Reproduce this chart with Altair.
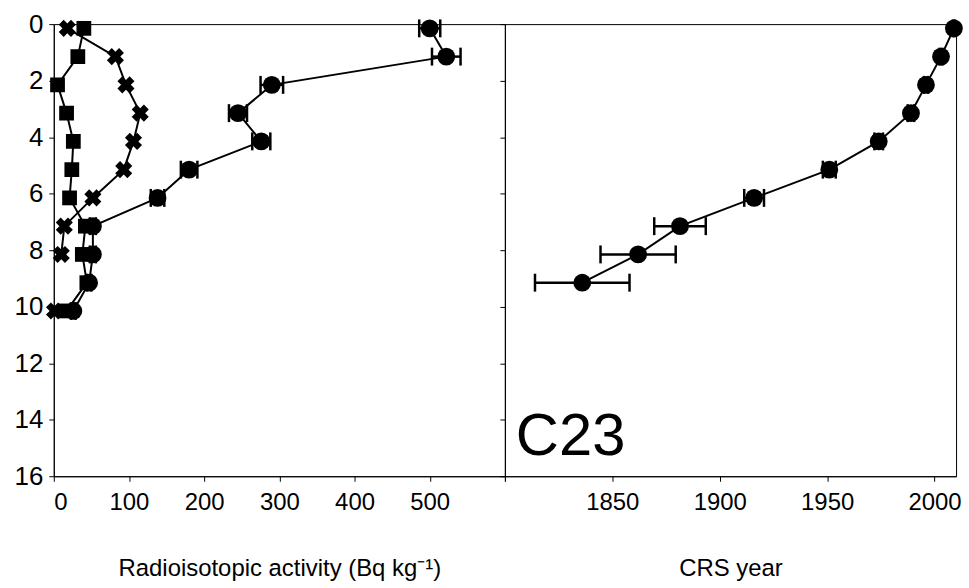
import altair as alt
import pandas as pd

# ---- data ----
depth = [0.15, 1.15, 2.15, 3.15, 4.15, 5.15, 6.15, 7.15, 8.15, 9.15, 10.15]
circle_act = [500, 522, 290, 245, 276, 180, 138, 52, 52, 47, 26]
circle_err = [14, 19, 15, 12, 12, 11, 9, 4, 4, 3, 3]
square_act = [40, 32, 5, 17, 26, 24, 21, 42, 38, 44, 17]
cross_act = [18, 82, 96, 115, 106, 93, 52, 14, 10, None, 1]

crs_depth = [0.15, 1.15, 2.15, 3.15, 4.15, 5.15, 6.15, 7.15, 8.15, 9.15]
crs_year = [2009, 2003, 1996, 1989, 1974, 1951, 1916, 1881.5, 1862, 1836]
crs_err = [0.5, 0.7, 1, 1.5, 2, 3, 4.6, 12, 17.5, 22]

y_ticks = [0, 2, 4, 6, 8, 10, 12, 14, 16]
x1_ticks = [0, 100, 200, 300, 400, 500, 600]
x2_ticks = [1800, 1850, 1900, 1950, 2000]

FONT = "Liberation Sans, Arial, sans-serif"
NARROW = "Liberation Sans Narrow, Liberation Sans, Arial, sans-serif"

W, H = 453, 454

circ = pd.DataFrame({"depth": depth, "v": circle_act, "err": circle_err})
circ["lo"] = circ["v"] - circ["err"]
circ["hi"] = circ["v"] + circ["err"]
sq = pd.DataFrame({"depth": depth, "v": square_act})
cr = pd.DataFrame({"depth": depth, "v": cross_act})
crs = pd.DataFrame({"depth": crs_depth, "v": crs_year, "err": crs_err})
crs["lo"] = crs["v"] - crs["err"]
crs["hi"] = crs["v"] + crs["err"]

yscale = alt.Scale(domain=[0, 16], reverse=True, nice=False, zero=False)
yaxis = alt.Axis(values=y_ticks, grid=False, labelFont=FONT, labelFontSize=26,
                 labelColor="black", domainColor="black", tickColor="black",
                 tickSize=5, labelPadding=6, title=None)
yaxis_r = alt.Axis(values=y_ticks, grid=False, labels=False, domainColor="black",
                   tickColor="black", tickSize=5, title=None)

x1scale = alt.Scale(domain=[0, 600], nice=False, zero=False)
x1axis = alt.Axis(values=x1_ticks, grid=False, labelFont=NARROW, labelFontSize=24,
                  labelColor="black", domainColor="black", tickColor="black",
                  tickSize=5, labelPadding=9,
                  labelExpr="datum.value == 600 ? '' : datum.label",
                  title="Radioisotopic activity (Bq kg\u207b\u00b9)",
                  titleFont=NARROW, titleFontSize=24, titleFontWeight="normal",
                  titleColor="black", titlePadding=43)
x2scale = alt.Scale(domain=[1800, 2010], nice=False, zero=False)
x2axis = alt.Axis(values=x2_ticks, grid=False, labelFont=NARROW, labelFontSize=24,
                  labelColor="black", domainColor="black", tickColor="black",
                  tickSize=5, labelPadding=9, format="d",
                  labelExpr="datum.value == 1800 ? '' : datum.label",
                  title="CRS year", titleFont=NARROW, titleFontSize=24,
                  titleFontWeight="normal", titleColor="black", titlePadding=43)

Y = alt.Y("depth:Q", scale=yscale, axis=yaxis)
Yr = alt.Y("depth:Q", scale=yscale, axis=yaxis_r)

CAP = dict(color="black", orient="vertical", size=18, thickness=2.5, opacity=1)

# left panel
c_line = alt.Chart(circ).mark_line(color="black", strokeWidth=2).encode(
    x=alt.X("v:Q", scale=x1scale, axis=x1axis), y=Y, order="depth:Q")
c_err = alt.Chart(circ).mark_rule(color="black", strokeWidth=2.5, opacity=1).encode(
    x=alt.X("lo:Q", scale=x1scale, axis=x1axis), x2="hi:Q", y=Y)
c_cap_lo = alt.Chart(circ).mark_tick(**CAP).encode(
    x=alt.X("lo:Q", scale=x1scale, axis=x1axis), y=Y)
c_cap_hi = alt.Chart(circ).mark_tick(**CAP).encode(
    x=alt.X("hi:Q", scale=x1scale, axis=x1axis), y=Y)
c_pts = alt.Chart(circ).mark_point(shape="circle", filled=True, color="black",
                                   size=320, opacity=1).encode(
    x=alt.X("v:Q", scale=x1scale, axis=x1axis), y=Y)

s_line = alt.Chart(sq).mark_line(color="black", strokeWidth=2).encode(
    x=alt.X("v:Q", scale=x1scale, axis=x1axis), y=Y, order="depth:Q")
s_pts = alt.Chart(sq).mark_point(shape="square", filled=True, color="black",
                                 size=220, opacity=1).encode(
    x=alt.X("v:Q", scale=x1scale, axis=x1axis), y=Y)

x_line = alt.Chart(cr).mark_line(color="black", strokeWidth=2).encode(
    x=alt.X("v:Q", scale=x1scale, axis=x1axis), y=Y, order="depth:Q")
x_pts = alt.Chart(cr).mark_point(shape="cross", angle=45, filled=True,
                                 color="black", size=300, opacity=1).encode(
    x=alt.X("v:Q", scale=x1scale, axis=x1axis), y=Y)

left = alt.layer(s_line, x_line, c_line, c_err, c_cap_lo, c_cap_hi,
                 s_pts, x_pts, c_pts).properties(width=W, height=H)

# right panel
r_line = alt.Chart(crs).mark_line(color="black", strokeWidth=2).encode(
    x=alt.X("v:Q", scale=x2scale, axis=x2axis), y=Yr, order="depth:Q")
r_err = alt.Chart(crs).mark_rule(color="black", strokeWidth=2.5, opacity=1).encode(
    x=alt.X("lo:Q", scale=x2scale, axis=x2axis), x2="hi:Q", y=Yr)
r_cap_lo = alt.Chart(crs).mark_tick(**CAP).encode(
    x=alt.X("lo:Q", scale=x2scale, axis=x2axis), y=Yr)
r_cap_hi = alt.Chart(crs).mark_tick(**CAP).encode(
    x=alt.X("hi:Q", scale=x2scale, axis=x2axis), y=Yr)
r_pts = alt.Chart(crs).mark_point(shape="circle", filled=True, color="black",
                                  size=320, opacity=1).encode(
    x=alt.X("v:Q", scale=x2scale, axis=x2axis), y=Yr)
label = alt.Chart(pd.DataFrame({"t": ["C23"]})).mark_text(
    font=FONT, fontSize=60, align="left", baseline="alphabetic", color="black"
).encode(x=alt.value(11), y=alt.value(433), text="t:N")

right = alt.layer(r_line, r_err, r_cap_lo, r_cap_hi, r_pts, label).properties(
    width=W, height=H)

chart = alt.hconcat(left, right, spacing=0, bounds="flush").configure_view(
    stroke="black", strokeWidth=1
).properties(padding={"left": 13, "top": 9, "right": 5, "bottom": 5},
             background="white")

chart.save("out.html", embed_options={"renderer": "svg", "actions": False})
